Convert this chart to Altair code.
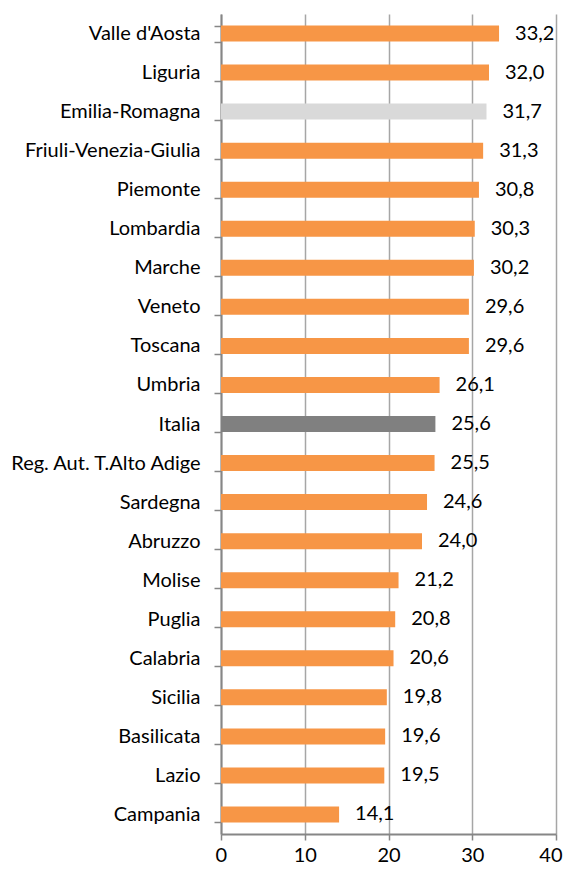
import altair as alt
import pandas as pd

regions = ["Valle d'Aosta", "Liguria", "Emilia-Romagna", "Friuli-Venezia-Giulia", "Piemonte",
           "Lombardia", "Marche", "Veneto", "Toscana", "Umbria", "Italia",
           "Reg. Aut. T.Alto Adige", "Sardegna", "Abruzzo", "Molise", "Puglia",
           "Calabria", "Sicilia", "Basilicata", "Lazio", "Campania"]
values = [33.2, 32.0, 31.7, 31.3, 30.8, 30.3, 30.2, 29.6, 29.6, 26.1, 25.6,
          25.5, 24.6, 24.0, 21.2, 20.8, 20.6, 19.8, 19.6, 19.5, 14.1]
groups = ["reg", "reg", "hl", "reg", "reg", "reg", "reg", "reg", "reg", "reg", "it",
          "reg", "reg", "reg", "reg", "reg", "reg", "reg", "reg", "reg", "reg"]

df = pd.DataFrame({"region": regions, "value": values, "group": groups})

FONT = "Lato"
FS = 20

y_enc = alt.Y("region:N", sort=regions, title=None,
              scale=alt.Scale(paddingInner=0.59, paddingOuter=0.295),
              axis=alt.Axis(tickBand="extent", domainColor="#868686", domainWidth=2,
                            tickColor="#868686", tickWidth=1.5, tickSize=7,
                            labelPadding=14, labelFont=FONT, labelFontSize=FS,
                            labelColor="#000000", grid=False, labelLimit=400))
x_enc = alt.X("value:Q", title=None,
              scale=alt.Scale(domain=[0, 40], nice=False),
              axis=alt.Axis(values=[0, 10, 20, 30, 40], grid=True, gridColor="#A6A6A6",
                            gridWidth=1.5, domainColor="#868686", domainWidth=2,
                            tickColor="#868686", tickWidth=1.5, tickSize=6,
                            labelPadding=5, labelFont=FONT, labelFontSize=FS,
                            labelFlush=True, labelFlushOffset=6,
                            labelColor="#000000", format="d"))

bars = alt.Chart(df).mark_bar().encode(
    y=y_enc, x=x_enc,
    color=alt.Color("group:N", legend=None,
                    scale=alt.Scale(domain=["reg", "hl", "it"],
                                    range=["#F79646", "#D9D9D9", "#808080"])),
)

labels = alt.Chart(df).transform_calculate(
    lab="replace(format(datum.value, '.1f'), '.', ',')"
).mark_text(align="left", baseline="middle", dx=16, font=FONT, fontSize=FS,
            color="#000000").encode(
    y=alt.Y("region:N", sort=regions), x="value:Q", text="lab:N")

chart = (bars + labels).properties(
    width=335, height=820,
    autosize=alt.AutoSizeParams(type="none"),
    padding={"left": 213, "top": 6, "right": 7, "bottom": 31},
).configure_view(stroke=None)

chart.save("out.html", embed_options={"renderer": "svg", "actions": False})
